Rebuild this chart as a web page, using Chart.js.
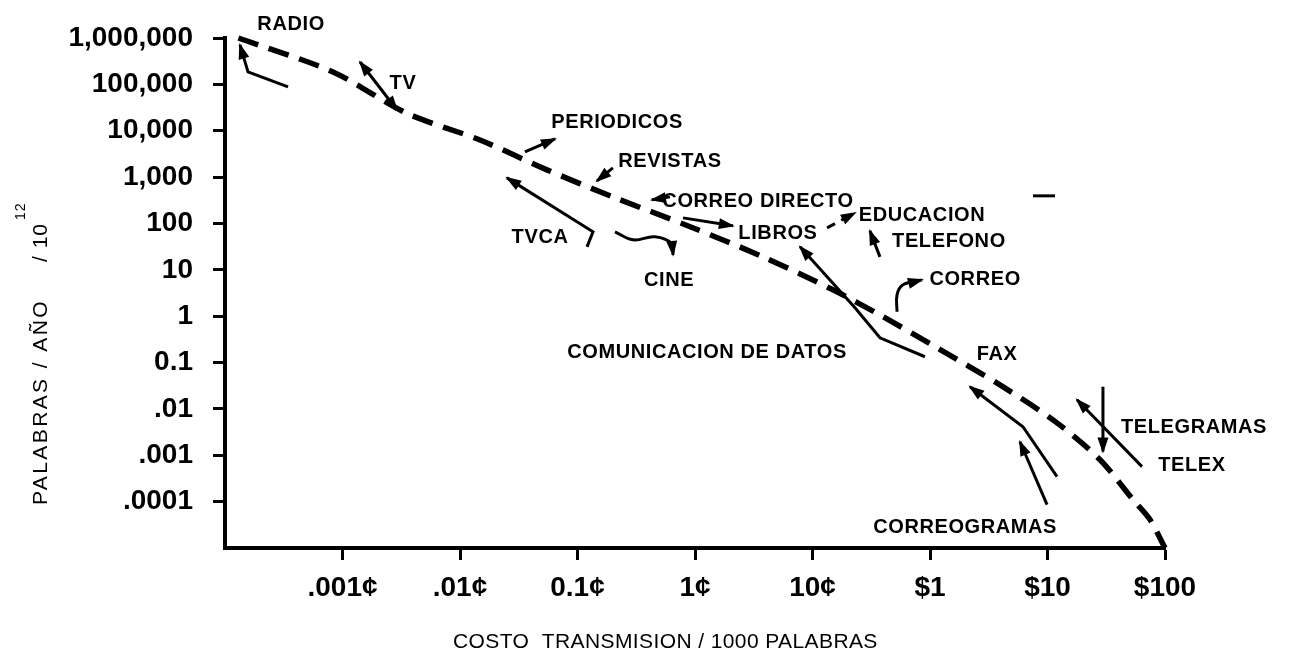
<!DOCTYPE html>
<html>
<head>
<meta charset="utf-8">
<script src="https://cdn.jsdelivr.net/npm/chart.js@4.4.1/dist/chart.umd.min.js"></script>
<style>
  html, body { margin: 0; padding: 0; background: #fff; }
  #wrap { width: 1290px; height: 666px; position: relative; }
</style>
</head>
<body>
<div id="wrap"><canvas id="c"></canvas></div>
<script>
// ---- axis ticks (x in cents) ----
const xTickValues = [0.001, 0.01, 0.1, 1, 10, 100, 1000, 10000];
const xTickLabels = ['.001¢', '.01¢', '0.1¢', '1¢', '10¢', '$1', '$10', '$100'];
const yTickValues = [1e-4, 1e-3, 1e-2, 0.1, 1, 10, 100, 1e3, 1e4, 1e5, 1e6];
const yTickLabels = ['.0001', '.001', '.01', '0.1', '1', '10', '100', '1,000', '10,000', '100,000', '1,000,000'];

// ---- main dashed curve ----
const curveCost  = [1.3e-4, 8.3e-4, 3.5e-3, 0.0148, 0.055, 0.20, 0.91, 3.8, 14.9, 40, 122, 394, 1205, 2800, 5350, 7450, 10000];
const curveWords = [1.0e6, 1.85e5, 2.4e4, 6300, 1430, 374, 85, 19, 3.7, 0.97, 0.19, 0.033, 0.005, 8.0e-4, 1.1e-4, 4.1e-5, 1.0e-5];

// ---- annotation arrows [cost, words] ----
const radioArrow         = [[3.44e-4, 8.8e4], [1.57e-4, 1.85e5], [1.34e-4, 7.1e5]];
const tvArrow            = [[1.41e-3, 3.04e5], [2.91e-3, 2.8e4]];
const periodicosArrow    = [[0.0357, 3490], [0.0644, 6650]];
const revistasArrow      = [[0.200, 1580], [0.1466, 828]];
const correoDirectoArrow = [[0.612, 374], [0.430, 323]];
const librosArrow        = [[0.791, 132], [2.10, 88.8]];
const tvcaArrow          = [[0.1205, 31.3], [0.1355, 65.9], [0.0251, 961]];
const cineArrow          = [[0.2085, 65.9], [0.2965, 44.4], [0.457, 51.4], [0.637, 36.3], [0.650, 21.0]];
const educacionArrow     = [[13.3, 80.4], [23.0, 169]];
const telefonoArrow      = [[37.5, 19.05], [30.8, 69.3]];
const correoArrow        = [[52.4, 1.245], [52.4, 2.89], [58.9, 4.75], [85.5, 6.08]];
const datosArrow         = [[90.6, 0.1334], [37.5, 0.342], [23.0, 1.52], [7.83, 31.3]];
const correogramasLine   = [[1205, 3.46e-4], [618, 4.13e-3], [219, 0.030]];
const correogramasArrow  = [[991, 8.6e-5], [583, 1.96e-3]];
const telegramasArrow    = [[2965, 0.030], [2965, 1.2e-3]];
const telexArrow         = [[6370, 5.68e-4], [1782, 0.0158]];
const strayMark          = [[753, 394], [1159, 394]];

// ---- annotation labels ----
const labelTexts = ['RADIO', 'TV', 'PERIODICOS', 'REVISTAS', 'CORREO DIRECTO', 'LIBROS', 'TVCA', 'CINE',
  'EDUCACION', 'TELEFONO', 'CORREO', 'COMUNICACION DE DATOS', 'FAX', 'CORREOGRAMAS', 'TELEGRAMAS', 'TELEX'];
const labelCost  = [3.65e-4, 3.27e-3, 0.217, 0.612, 3.44, 5.08, 0.048, 0.601, 85.5, 145, 242, 1.265, 372, 199, 17660, 16980];
const labelWords = [2.0e6, 1.02e5, 1.47e4, 2130, 292, 59.7, 49.0, 5.79, 146, 40.1, 6.08, 0.1626, 0.147, 2.75e-5, 3.94e-3, 5.97e-4];

const xTitle = 'COSTO  TRANSMISION / 1000 PALABRAS';
const yTitleMain = 'PALABRAS / AÑO';
const yTitleUnit = '/ 10';
const yTitleExp = '12';

const toPts = arr => arr.map(p => ({ x: p[0], y: p[1] }));
function arrowSet(arr, opts) {
  return Object.assign({
    data: toPts(arr), showLine: true, borderColor: '#000', borderWidth: 3,
    pointRadius: 0, tension: 0, clip: false, fill: false, arrowEnd: true
  }, opts || {});
}

const datasets = [
  {
    data: curveCost.map((c, i) => ({ x: c, y: curveWords[i] })),
    showLine: true, borderColor: '#000', borderWidth: 5.5, borderDash: [21, 11],
    pointRadius: 0, tension: 0.3, clip: false, fill: false
  },
  arrowSet(radioArrow),
  arrowSet(tvArrow, { arrowStart: true }),
  arrowSet(periodicosArrow),
  arrowSet(revistasArrow),
  arrowSet(correoDirectoArrow),
  arrowSet(librosArrow),
  arrowSet(tvcaArrow),
  arrowSet(cineArrow, { tension: 0.4 }),
  arrowSet(educacionArrow, { borderDash: [9, 7] }),
  arrowSet(telefonoArrow),
  arrowSet(correoArrow, { tension: 0.4 }),
  arrowSet(datosArrow),
  arrowSet(correogramasLine),
  arrowSet(correogramasArrow),
  arrowSet(telegramasArrow),
  arrowSet(telexArrow),
  arrowSet(strayMark, { arrowEnd: false })
];

function drawHead(ctx, from, to, len, w) {
  const a = Math.atan2(to.y - from.y, to.x - from.x);
  const c = Math.cos(a), s = Math.sin(a);
  ctx.beginPath();
  ctx.moveTo(to.x + 2 * c, to.y + 2 * s);
  ctx.lineTo(to.x - len * c + w * s, to.y - len * s - w * c);
  ctx.lineTo(to.x - len * c - w * s, to.y - len * s + w * c);
  ctx.closePath();
  ctx.fill();
}

const arrowPlugin = {
  id: 'arrowHeads',
  afterDatasetsDraw(chart) {
    const ctx = chart.ctx;
    ctx.save();
    ctx.fillStyle = '#000';
    chart.data.datasets.forEach((ds, i) => {
      const pts = chart.getDatasetMeta(i).data;
      if (pts.length < 2) return;
      if (ds.arrowEnd) drawHead(ctx, pts[pts.length - 2], pts[pts.length - 1], 14, 5.5);
      if (ds.arrowStart) drawHead(ctx, pts[1], pts[0], 14, 5.5);
    });
    ctx.restore();
  }
};

const textPlugin = {
  id: 'texts',
  beforeDraw(chart) {
    const ctx = chart.ctx;
    ctx.save();
    ctx.fillStyle = '#fff';
    ctx.fillRect(0, 0, chart.width, chart.height);
    ctx.restore();
  },
  afterDraw(chart) {
    const ctx = chart.ctx;
    const xs = chart.scales.x, ys = chart.scales.y;
    ctx.save();
    ctx.fillStyle = '#000';
    // annotation labels
    ctx.font = 'bold 20px "Liberation Sans", Arial, sans-serif';
    ctx.textAlign = 'center';
    ctx.textBaseline = 'middle';
    try { ctx.letterSpacing = '0.6px'; } catch (e) {}
    labelTexts.forEach((t, i) => {
      ctx.fillText(t, xs.getPixelForValue(labelCost[i]), ys.getPixelForValue(labelWords[i]));
    });
    // x title
    ctx.font = '21px "Liberation Sans", Arial, sans-serif';
    ctx.textAlign = 'left';
    ctx.textBaseline = 'alphabetic';
    try { ctx.letterSpacing = '0.4px'; } catch (e) {}
    ctx.fillText(xTitle, 453, 648);
    // y title (rotated)
    ctx.translate(47, 505);
    ctx.rotate(-Math.PI / 2);
    ctx.font = '21px "Liberation Sans", Arial, sans-serif';
    try { ctx.letterSpacing = '2.4px'; } catch (e) {}
    ctx.fillText(yTitleMain, 0, 0);
    try { ctx.letterSpacing = '1px'; } catch (e) {}
    ctx.fillText(yTitleUnit, 243, 0);
    const w = ctx.measureText(yTitleUnit).width;
    ctx.font = '14px "Liberation Sans", Arial, sans-serif';
    try { ctx.letterSpacing = '1px'; } catch (e) {}
    ctx.fillText(yTitleExp, 243 + w + 3, -22);
    ctx.restore();
  }
};

const tickFont = { family: '"Liberation Sans", Arial, sans-serif', size: 28, weight: 'bold' };
const gridOpts = { display: true, drawOnChartArea: false, drawTicks: true, tickLength: 12, tickWidth: 3, tickColor: '#000' };
const borderOpts = { display: true, color: '#000', width: 4 };

new Chart(document.getElementById('c'), {
  type: 'scatter',
  data: { datasets },
  options: {
    responsive: true,
    maintainAspectRatio: false,
    animation: false,
    events: [],
    layout: { padding: { left: 0, top: 38, right: 125, bottom: 0 } },
    plugins: { legend: { display: false }, tooltip: { enabled: false }, title: { display: false } },
    scales: {
      x: {
        type: 'logarithmic', min: 1e-4, max: 1e4,
        afterBuildTicks: s => { s.ticks = xTickValues.map(v => ({ value: v })); },
        afterFit: s => { s.height = 118; },
        ticks: {
          autoSkip: false, maxRotation: 0, minRotation: 0, padding: 11, color: '#000', font: tickFont,
          callback: (v, i) => xTickLabels[i]
        },
        grid: gridOpts, border: borderOpts
      },
      y: {
        type: 'logarithmic', min: 1e-5, max: 1e6,
        afterBuildTicks: s => { s.ticks = yTickValues.map(v => ({ value: v })); },
        afterFit: s => { s.width = 225; },
        ticks: {
          autoSkip: false, padding: 20, color: '#000', font: tickFont,
          callback: (v, i) => yTickLabels[i]
        },
        grid: gridOpts, border: borderOpts
      }
    }
  },
  plugins: [arrowPlugin, textPlugin]
});
</script>
</body>
</html>
